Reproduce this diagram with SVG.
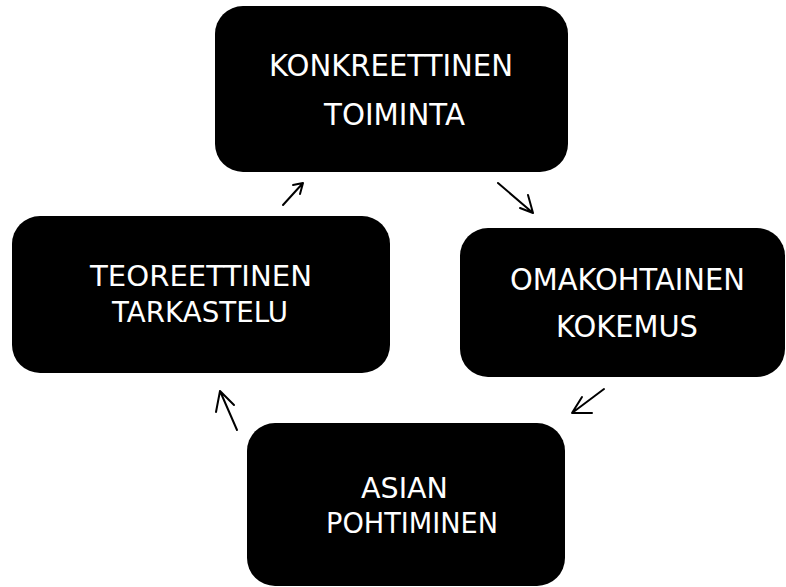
<svg xmlns="http://www.w3.org/2000/svg" width="786" height="587" viewBox="0 0 786 587">
<style>
.box{fill:#000}
.t{fill:#fff;font-family:"DejaVu Sans","Liberation Sans",sans-serif;font-size:30px}
.s{font-size:29px}
.arr{fill:none;stroke:#000;stroke-width:2;stroke-linecap:round;stroke-linejoin:round}
</style>
<rect width="786" height="587" fill="#fff"/>
<g id="node-konkreettinen">
<rect class="box" x="215" y="6" width="353" height="166" rx="28"/>
<text class="t" x="269" y="76" textLength="244" lengthAdjust="spacingAndGlyphs">KONKREETTINEN</text>
<text class="t" x="324" y="125" textLength="141" lengthAdjust="spacingAndGlyphs">TOIMINTA</text>
</g>
<g id="node-omakohtainen">
<rect class="box" x="460" y="228" width="325" height="149" rx="28"/>
<text class="t" x="510" y="290" textLength="235" lengthAdjust="spacingAndGlyphs">OMAKOHTAINEN</text>
<text class="t" x="556" y="337" textLength="142" lengthAdjust="spacingAndGlyphs">KOKEMUS</text>
</g>
<g id="node-asian">
<rect class="box" x="247" y="423" width="318" height="163" rx="28"/>
<text class="t s" x="361" y="498" textLength="87" lengthAdjust="spacingAndGlyphs">ASIAN</text>
<text class="t s" x="326" y="533" textLength="172" lengthAdjust="spacingAndGlyphs">POHTIMINEN</text>
</g>
<g id="node-teoreettinen">
<rect class="box" x="12" y="216" width="378" height="157" rx="28"/>
<text class="t s" x="90" y="286" textLength="222" lengthAdjust="spacingAndGlyphs">TEOREETTINEN</text>
<text class="t s" x="112" y="322" textLength="176" lengthAdjust="spacingAndGlyphs">TARKASTELU</text>
</g>
<g id="connectors">
<path class="arr" d="M283 205 L303 183 M293 185 L303 183 L300 194"/>
<path class="arr" d="M498 183 L533 213 M520 208 L533 213 L528 195"/>
<path class="arr" d="M604 389 L572 413 M582 397 L572 413 L592 413"/>
<path class="arr" d="M237 430 L220 391 M216 412 L220 391 L234 405"/>
</g>
</svg>
